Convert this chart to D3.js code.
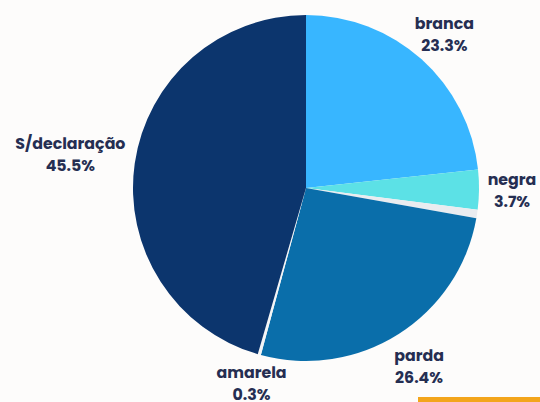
<!DOCTYPE html>
<html><head><meta charset="utf-8">
<script src="https://cdn.jsdelivr.net/npm/d3@7"></script>
<style>html,body{margin:0;padding:0;background:#fdfcfb;}svg{display:block;}</style>
</head><body>
<svg id="c" width="540" height="402"></svg>
<script>
const categories = ["branca", "negra", "indígena", "parda", "amarela", "S/declaração"];
const values = [23.3, 3.7, 0.8, 26.4, 0.3, 45.5];
const showLabel = [true, true, false, true, true, true];
const colors = ["#38b6ff", "#5ce1e6", "#e9ecf0", "#0a6eaa", "#f4f5f6", "#0c356d"];

const W = 540, H = 402, cx = 306, cy = 188, R = 173;
const svg = d3.select("#c");
svg.append("rect").attr("width", W).attr("height", H).attr("fill", "#fdfcfb");

const data = categories.map((c, i) => ({cat: c, value: values[i], color: colors[i], show: showLabel[i]}));
const pie = d3.pie().value(d => d.value).sort(null);
const arcs = pie(data);
const arc = d3.arc().innerRadius(0).outerRadius(R);
const g = svg.append("g").attr("transform", `translate(${cx},${cy})`);
g.selectAll("path").data(arcs).join("path")
  .attr("d", arc).attr("fill", d => d.data.color);

const labelR = {"branca": 207, "negra": 206, "parda": 211, "amarela": 202, "S/declaração": 238};
const fmt = v => v.toFixed(1) + "%";
arcs.filter(d => d.data.show).forEach(d => {
  const a = (d.startAngle + d.endAngle) / 2;
  const r = labelR[d.data.cat];
  const x = Math.sin(a) * r, y = -Math.cos(a) * r;
  const t = g.append("text").attr("text-anchor", "middle")
    .attr("font-family", "Poppins, 'Noto Sans', sans-serif").attr("font-weight", 700)
    .attr("font-size", 15.8).attr("fill", "#252e52");
  t.append("tspan").attr("x", x).attr("y", y - 5).text(d.data.cat);
  t.append("tspan").attr("x", x).attr("y", y + 17).text(fmt(d.data.value));
});

svg.append("rect").attr("x", 418).attr("y", 397).attr("width", 122).attr("height", 5).attr("fill", "#f3a51b");
</script>
</body></html>
